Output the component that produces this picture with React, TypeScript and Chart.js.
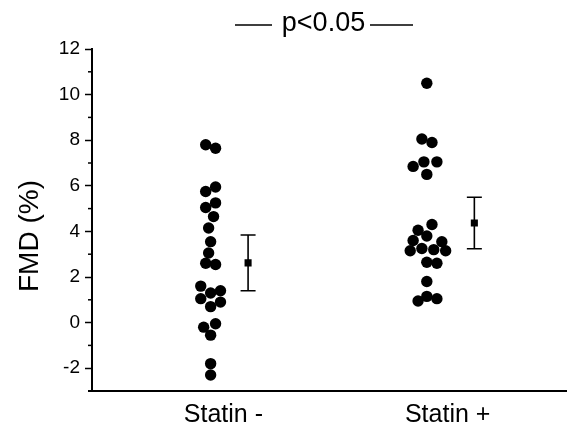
import React, { useEffect, useRef } from 'react';
import { Chart, registerables } from 'chart.js';

Chart.register(...registerables);

const categories = ['Statin -', 'Statin +'];
const categoryPositions = [1, 2];

const statinMinusValues = [7.8, 7.65, 5.95, 5.75, 5.25, 5.05, 4.65, 4.15, 3.55, 3.05, 2.6, 2.55, 1.6, 1.3, 1.4, 1.05, 0.9, 0.7, -0.05, -0.2, -0.55, -1.8, -2.3];
const statinMinusOffsets = [-0.079, -0.035, -0.035, -0.079, -0.035, -0.079, -0.044, -0.066, -0.057, -0.066, -0.079, -0.035, -0.101, -0.057, -0.013, -0.101, -0.013, -0.057, -0.035, -0.088, -0.057, -0.057, -0.057];

const statinPlusValues = [10.5, 8.05, 7.9, 6.85, 7.05, 7.05, 6.5, 4.3, 4.05, 3.8, 3.6, 3.55, 3.15, 3.25, 3.2, 3.15, 2.65, 2.6, 1.8, 1.15, 0.95, 1.05];
const statinPlusOffsets = [-0.093, -0.115, -0.07, -0.154, -0.106, -0.048, -0.093, -0.07, -0.132, -0.093, -0.154, -0.026, -0.167, -0.115, -0.062, -0.009, -0.093, -0.048, -0.093, -0.093, -0.132, -0.048];

const meanValues = [2.62, 4.37];
const meanErrors = [1.22, 1.13];
const meanOffsets = [0.11, 0.119];

const yTickValues = [-2, 0, 2, 4, 6, 8, 10, 12];
const pValueText = 'p<0.05';
const yAxisTitle = 'FMD (%)';

const FONT = '"Liberation Sans", Arial, sans-serif';

export default function App() {
  const canvasRef = useRef<HTMLCanvasElement | null>(null);

  useEffect(() => {
    const canvas = canvasRef.current;
    if (!canvas) return;

    const minusPoints = statinMinusValues.map((v, i) => ({ x: categoryPositions[0] + statinMinusOffsets[i], y: v }));
    const plusPoints = statinPlusValues.map((v, i) => ({ x: categoryPositions[1] + statinPlusOffsets[i], y: v }));
    const meanPoints = meanValues.map((v, i) => ({ x: categoryPositions[i] + meanOffsets[i], y: v }));

    const errorBarPlugin = {
      id: 'errorBars',
      afterDatasetsDraw(chart: any) {
        const ctx = chart.ctx;
        const xs = chart.scales.x;
        const ys = chart.scales.y;
        ctx.save();
        ctx.strokeStyle = '#000';
        ctx.lineWidth = 1.6;
        meanPoints.forEach((p, i) => {
          const px = xs.getPixelForValue(p.x);
          const top = ys.getPixelForValue(p.y + meanErrors[i]);
          const bot = ys.getPixelForValue(p.y - meanErrors[i]);
          ctx.beginPath();
          ctx.moveTo(px, top);
          ctx.lineTo(px, bot);
          ctx.moveTo(px - 7.5, top);
          ctx.lineTo(px + 7.5, top);
          ctx.moveTo(px - 7.5, bot);
          ctx.lineTo(px + 7.5, bot);
          ctx.stroke();
        });
        ctx.restore();
      },
    };

    const decorPlugin = {
      id: 'decor',
      afterDraw(chart: any) {
        const ctx = chart.ctx;
        const ys = chart.scales.y;
        const area = chart.chartArea;
        ctx.save();
        // minor ticks
        ctx.strokeStyle = '#000';
        ctx.lineWidth = 1.5;
        for (let v = -3; v <= 12; v++) {
          if (yTickValues.indexOf(v) >= 0) continue;
          const py = ys.getPixelForValue(v);
          ctx.beginPath();
          ctx.moveTo(area.left - 4, py);
          ctx.lineTo(area.left, py);
          ctx.stroke();
        }
        // x axis slight overhang to the left
        ctx.lineWidth = 2;
        ctx.beginPath();
        ctx.moveTo(area.left - 4, area.bottom);
        ctx.lineTo(area.left, area.bottom);
        ctx.stroke();
        // y title
        ctx.fillStyle = '#000';
        ctx.font = `28px ${FONT}`;
        ctx.textAlign = 'center';
        ctx.textBaseline = 'middle';
        ctx.translate(30, 236);
        ctx.rotate(-Math.PI / 2);
        ctx.fillText(yAxisTitle, 0, 0);
        ctx.restore();

        // p value annotation
        ctx.save();
        ctx.fillStyle = '#000';
        ctx.strokeStyle = '#000';
        ctx.lineWidth = 1.5;
        ctx.font = `27px ${FONT}`;
        ctx.textAlign = 'center';
        ctx.textBaseline = 'middle';
        ctx.fillText(pValueText, 323.5, 24);
        ctx.beginPath();
        ctx.moveTo(235, 25);
        ctx.lineTo(272, 25);
        ctx.moveTo(370, 25);
        ctx.lineTo(413, 25);
        ctx.stroke();
        ctx.restore();
      },
    };

    const chart = new Chart(canvas, {
      type: 'scatter',
      data: {
        datasets: [
          {
            label: categories[0],
            data: minusPoints,
            backgroundColor: '#000',
            borderWidth: 0,
            pointRadius: 5.7,
          },
          {
            label: categories[1],
            data: plusPoints,
            backgroundColor: '#000',
            borderWidth: 0,
            pointRadius: 5.7,
          },
          {
            label: 'Mean',
            data: meanPoints,
            backgroundColor: '#000',
            borderWidth: 0,
            pointStyle: 'rect',
            pointRadius: 5,
          },
        ],
      },
      options: {
        animation: false,
        responsive: false,
        devicePixelRatio: 1,
        layout: { padding: { top: 49, right: 0, left: 0, bottom: 0 } },
        plugins: {
          legend: { display: false },
          tooltip: { enabled: false },
        },
        scales: {
          x: {
            type: 'linear',
            min: 0.414,
            max: 2.529,
            afterFit: (s: any) => { s.height = 37; },
            afterBuildTicks: (s: any) => { s.ticks = categoryPositions.map((v) => ({ value: v })); },
            grid: { display: false, drawTicks: false },
            border: { display: true, color: '#000', width: 2 },
            ticks: {
              padding: 9,
              color: '#000',
              font: { family: FONT, size: 25 },
              maxRotation: 0,
              autoSkip: false,
              callback: (v: any) => categories[categoryPositions.indexOf(Number(v))] ?? '',
            },
          },
          y: {
            min: -3,
            max: 12,
            afterFit: (s: any) => { s.width = 92; },
            afterBuildTicks: (s: any) => { s.ticks = yTickValues.map((v) => ({ value: v })); },
            grid: { drawOnChartArea: false, drawTicks: true, tickLength: 7, color: '#000', tickWidth: 1.5 },
            border: { display: true, color: '#000', width: 2 },
            ticks: {
              padding: 5,
              color: '#000',
              font: { family: FONT, size: 19 },
              callback: (v: any) => String(v),
            },
          },
        },
      },
      plugins: [errorBarPlugin, decorPlugin],
    });

    return () => chart.destroy();
  }, []);

  return (
    <div style={{ position: 'absolute', left: 0, top: 0, width: 572, height: 428, background: '#fff' }}>
      <canvas ref={canvasRef} width={572} height={428} style={{ display: 'block' }} />
    </div>
  );
}
